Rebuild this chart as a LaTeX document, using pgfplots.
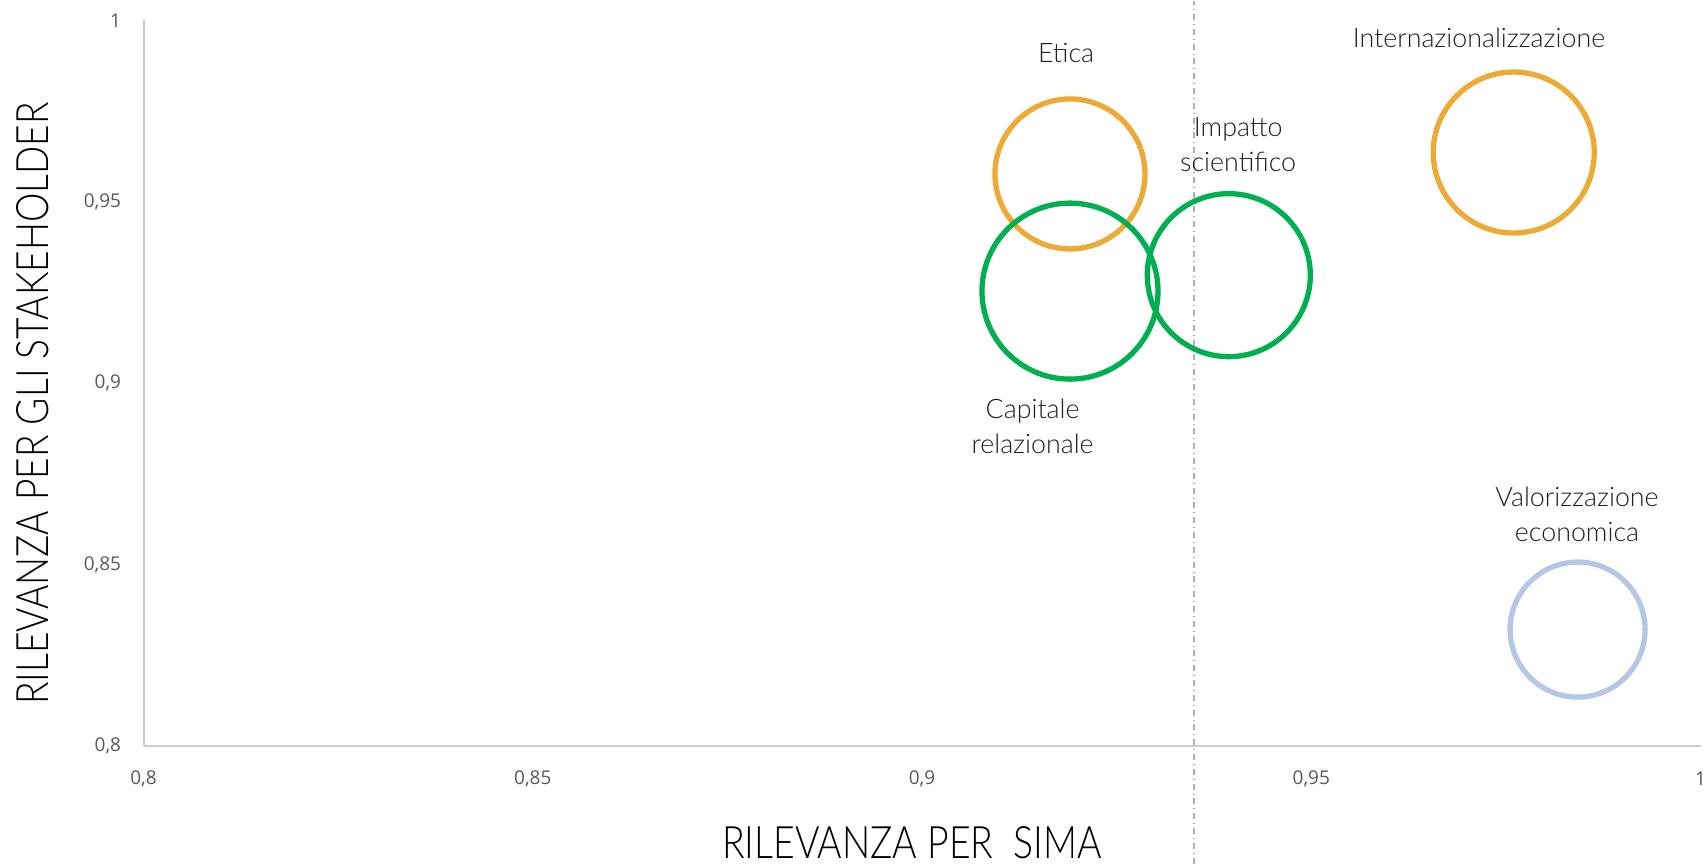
\documentclass[border=0pt]{standalone}
\usepackage{pgfplots}
\pgfplotsset{compat=1.18}
\usepackage{graphicx}
\usepackage{fontspec}
\setmainfont{Open Sans}
\newfontfamily\lightfont{Lato Light}
\definecolor{corange}{RGB}{238,170,52}
\definecolor{cgreen}{RGB}{0,176,80}
\definecolor{cblue}{RGB}{180,199,231}
\definecolor{ctick}{RGB}{89,89,89}
\definecolor{caxis}{RGB}{205,205,205}
\definecolor{ctext}{RGB}{30,30,30}
\definecolor{cdash}{RGB}{175,175,175}
\begin{document}
\begin{tikzpicture}
\begin{axis}[
  scale only axis, width=778.5pt, height=362.75pt,
  xmin=0.8, xmax=1, ymin=0.8, ymax=1,
  axis x line=bottom, axis y line=left,
  axis line style={-, draw=caxis, line width=1pt},
  xtick={0.8,0.85,0.9,0.95,1}, ytick={0.8,0.85,0.9,0.95,1},
  major tick length=0pt, tick style={draw=none},
  /pgf/number format/use comma,
  /pgf/number format/assume math mode=true,
  ticklabel style={font=\fontsize{9.5}{11}\selectfont, text=ctick, inner sep=0pt},
  xticklabel style={anchor=center, yshift=-16.5pt},
  yticklabel style={anchor=east, xshift=-11pt},
  clip=false,
]
\addplot[draw=cdash, dash dot, line width=0.75pt] coordinates {(0.9349,0.7676)(0.9349,1.0054)};
\addplot[only marks, mark=o, mark size=37.5pt, mark options={draw=corange, line width=2.65pt}] coordinates {(0.9190,0.9577)};
\addplot[only marks, mark=o, mark size=40.25pt, mark options={draw=corange, line width=2.65pt}] coordinates {(0.9760,0.9636)};
\addplot[only marks, mark=o, mark size=44pt, mark options={draw=cgreen, line width=2.65pt}] coordinates {(0.9190,0.9254)};
\addplot[only marks, mark=o, mark size=40.75pt, mark options={draw=cgreen, line width=2.65pt}] coordinates {(0.9394,0.9298)};
\addplot[only marks, mark=o, mark size=33.75pt, mark options={draw=cblue, line width=2.65pt}] coordinates {(0.9842,0.8321)};
\tikzset{blab/.style={font=\lightfont\fontsize{13.4}{17.5}\selectfont, text=ctext, align=center}}
\node[blab] at (axis cs:0.9185,0.9911) {Etica};
\node[blab] at (axis cs:0.9406,0.9659) {Impatto\\scientifico};
\node[blab] at (axis cs:0.97153,0.99521) {Internazionalizzazione};
\node[blab] at (axis cs:0.9142,0.8880) {Capitale\\relazionale};
\node[blab] at (axis cs:0.98412,0.86381) {Valorizzazione\\economica};
\node[inner sep=0pt, text=black] at ([yshift=-48.5pt]rel axis cs:0.4936,0) {\resizebox{190pt}{16pt}{\lightfont RILEVANZA PER\ \ SIMA}};
\node[inner sep=0pt, text=black, rotate=90] at ([xshift=-55.5pt]rel axis cs:0,0.472) {\resizebox{301pt}{16pt}{\lightfont RILEVANZA PER GLI STAKEHOLDER}};
\coordinate (SW) at (rel axis cs:0,0);
\coordinate (NE) at (rel axis cs:1,1);
\end{axis}
\pgfresetboundingbox
\path ([xshift=-71.75pt,yshift=-59pt]SW) rectangle ([xshift=2.7pt,yshift=10.25pt]NE);
\end{tikzpicture}
\end{document}
